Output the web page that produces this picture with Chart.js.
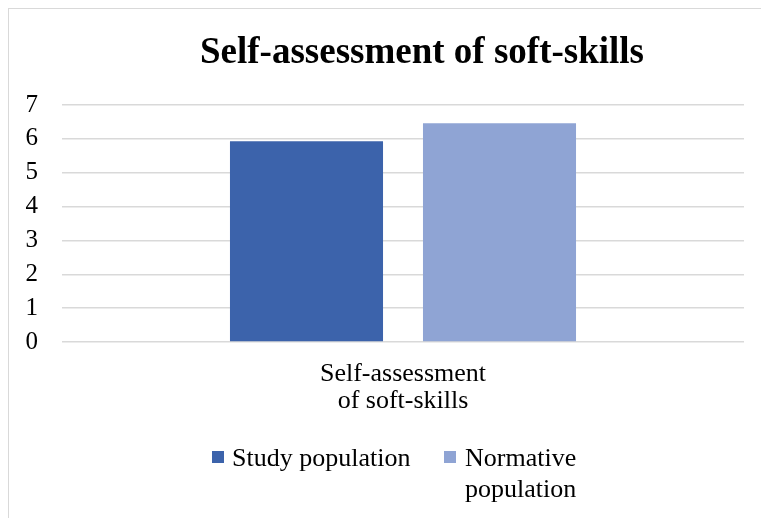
<!DOCTYPE html>
<html>
<head>
<meta charset="utf-8">
<script src="https://cdn.jsdelivr.net/npm/chart.js@4"></script>
<style>
  body { margin: 0; background: #fff; overflow: hidden; }
  .frame { position: absolute; left: 8px; top: 8px; width: 1000px; height: 1000px; border: 1px solid #d9d9d9; }
  .wrap { position: absolute; left: 0; top: 0; width: 761px; height: 518px; }
</style>
</head>
<body>
<div class="frame"></div>
<div class="wrap"><canvas id="chart" width="761" height="518"></canvas></div>
<script>
const chartTitle = "Self-assessment of soft-skills";
const categories = [["Self-assessment", "of soft-skills"]];
const seriesNames = ["Study population", "Normative population"];
const legendLines = [["Study population"], ["Normative", "population"]];
const studyValues = [5.93];
const normativeValues = [6.46];
const yMin = 0, yMax = 7, yStep = 1;

const colors = ['#3c63ab', '#8fa4d4'];
const serif = '"Liberation Serif", "Times New Roman", serif';

// title drawn by hand so it can sit where the original puts it
const titlePlugin = {
    id: 'titleText',
    afterDraw(chart) {
        const ctx = chart.ctx;
        ctx.save();
        ctx.fillStyle = '#000';
        ctx.font = 'bold 37px ' + serif;
        ctx.textAlign = 'center';
        ctx.textBaseline = 'alphabetic';
        ctx.fillText(chartTitle, 422, 63);
        ctx.restore();
    }
};

// legend with wrapped second label
const legendPlugin = {
    id: 'wrappedLegend',
    afterDraw(chart) {
        const ctx = chart.ctx;
        const spots = [{ box: 212, text: 232 }, { box: 444, text: 465 }];
        ctx.save();
        ctx.font = '26px ' + serif;
        ctx.textBaseline = 'alphabetic';
        chart.data.datasets.forEach((ds, i) => {
            ctx.fillStyle = ds.backgroundColor;
            ctx.fillRect(spots[i].box, 451, 12, 12);
            ctx.fillStyle = '#000';
            legendLines[i].forEach((line, j) => {
                ctx.fillText(line, spots[i].text, 466 + j * 31);
            });
        });
        ctx.restore();
    }
};

new Chart(document.getElementById('chart').getContext('2d'), {
    type: 'bar',
    data: {
        labels: categories,
        datasets: [
            {
                label: seriesNames[0],
                data: studyValues,
                backgroundColor: colors[0],
                categoryPercentage: 0.566,
                barPercentage: 0.793
            },
            {
                label: seriesNames[1],
                data: normativeValues,
                backgroundColor: colors[1],
                categoryPercentage: 0.566,
                barPercentage: 0.793
            }
        ]
    },
    options: {
        responsive: false,
        animation: false,
        layout: { padding: { top: 105, right: 17, bottom: 0, left: 0 } },
        scales: {
            x: {
                grid: { display: false },
                border: { display: false },
                ticks: {
                    color: '#000',
                    font: { family: serif, size: 26, lineHeight: 1.04 },
                    padding: 11,
                    maxRotation: 0
                },
                afterFit(scale) { scale.height = 176; }
            },
            y: {
                min: yMin,
                max: yMax,
                border: { display: false },
                grid: { color: '#d9d9d9', lineWidth: 1.5, drawTicks: false },
                ticks: {
                    stepSize: yStep,
                    color: '#000',
                    font: { family: serif, size: 25 },
                    padding: 24
                },
                afterFit(scale) { scale.width = 62; }
            }
        },
        plugins: {
            legend: { display: false },
            title: { display: false },
            tooltip: { enabled: false }
        }
    },
    plugins: [titlePlugin, legendPlugin]
});
</script>
</body>
</html>
